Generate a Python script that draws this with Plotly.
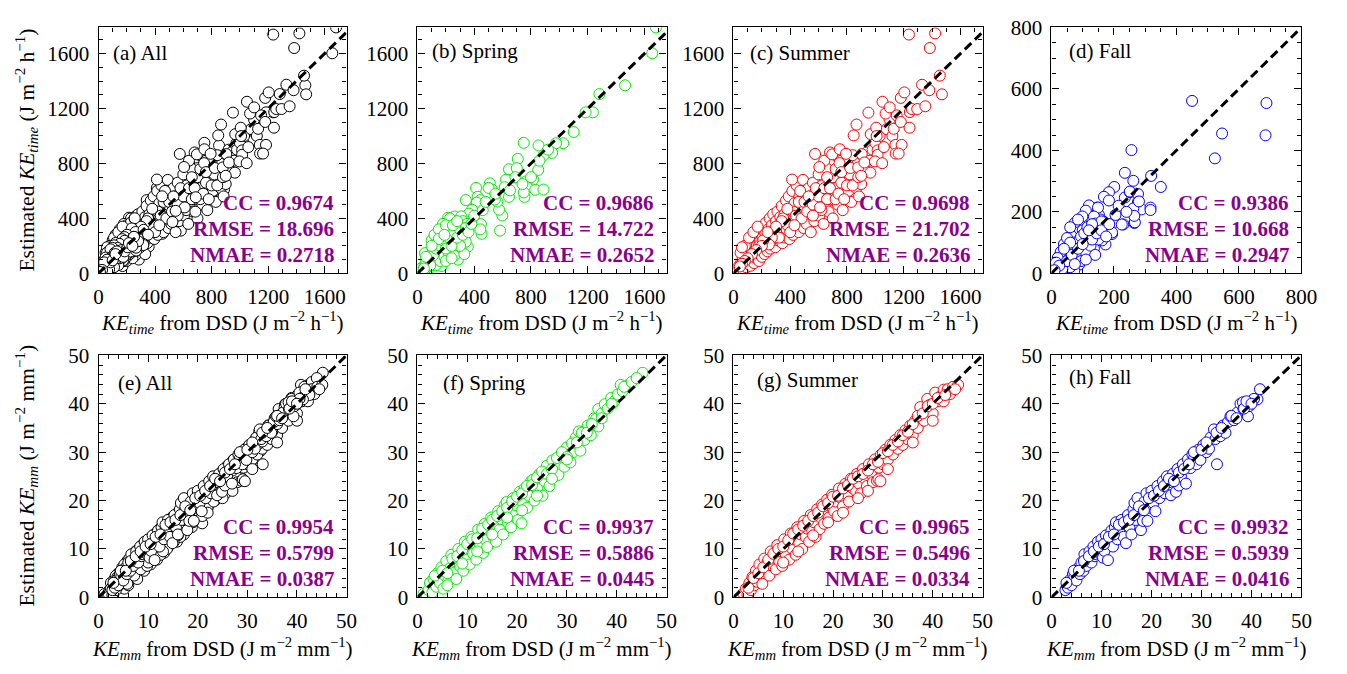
import plotly.graph_objects as go

FONT = "Liberation Serif, Times New Roman, serif"
W, H = 1347, 674

# ---------------- KE_time: (from DSD, estimated), J m-2 h-1 ----------------
spring_time = [
    (1681, 1790), (1654, 1602), (1463, 1369), (1282, 1305), (1236, 1172), (1185, 1172),
    (1101, 1029), (1027, 947), (976, 947), (949, 877), (888, 858), (853, 931), (749, 950),
    (707, 833), (645, 758), (700, 766), (851, 753), (814, 681), (765, 669), (772, 627),
    (754, 557), (830, 608), (888, 610), (749, 589), (624, 681), (615, 627), (645, 557),
    (652, 604), (582, 311), (598, 421), (575, 463), (563, 522), (545, 537), (510, 655),
    (524, 611), (501, 622), (413, 622), (424, 557), (443, 533), (418, 515), (341, 533),
    (385, 463), (362, 435), (397, 405), (447, 358), (452, 288), (443, 320),
    (216, 405), (262, 414), (309, 414), (170, 335), (100, 241), (53, 147), (355, 194),
    (285, 100), (170, 53), (77, 30), (20, 15), (30, 40), (40, 20), (50, 60), (60, 35),
    (70, 90), (80, 50), (90, 130), (100, 75), (110, 170), (120, 100), (130, 60), (140, 200),
    (150, 130), (160, 90), (170, 250), (180, 160), (190, 120), (200, 300), (210, 210),
    (220, 150), (230, 340), (240, 250), (250, 180), (260, 380), (270, 290), (280, 220),
    (290, 340), (300, 260), (310, 160), (320, 380), (330, 300), (340, 230), (350, 360),
    (230, 400), (180, 360), (120, 280), (150, 320), (260, 130), (200, 90), (330, 140),
    (300, 200), (240, 110),
    (60, 80), (90, 60), (110, 130), (130, 180), (160, 200), (180, 240), (200, 180),
    (220, 260), (240, 200), (260, 300), (280, 260), (300, 320), (320, 280), (340, 330),
    (360, 300), (200, 350), (250, 350), (280, 380), (150, 250), (190, 280), (100, 200),
    (60, 120), (30, 20), (45, 35), (380, 360), (400, 420), (460, 460), (480, 520),
    (550, 580), (690, 700), (740, 650), (800, 700), (860, 820), (920, 900),
]

summer_time = [
    (15, 10), (25, 35), (30, 15), (40, 55), (45, 25), (55, 80), (60, 40), (65, 110),
    (70, 20), (75, 60), (85, 130), (90, 45), (95, 95), (100, 160), (105, 70), (110, 120),
    (115, 190), (120, 55), (125, 150), (130, 95), (135, 220), (140, 130), (145, 75),
    (150, 250), (155, 170), (160, 110), (165, 200), (170, 280), (175, 140), (180, 90),
    (185, 230), (190, 310), (195, 170), (200, 120), (205, 260), (210, 340), (215, 195),
    (220, 140), (225, 290), (230, 370), (235, 220), (240, 160), (245, 320), (250, 250),
    (255, 400), (260, 180), (265, 290), (270, 350), (275, 210), (280, 430), (285, 270),
    (290, 320), (295, 190), (300, 380), (50, 150), (80, 200), (110, 260), (140, 300),
    (60, 190), (170, 340),
    (310, 450), (315, 240), (320, 310), (330, 410), (335, 280), (340, 490), (345, 220),
    (350, 350), (360, 430), (365, 260), (370, 530), (375, 320), (385, 390), (390, 560),
    (395, 250), (400, 470), (405, 330), (415, 600), (420, 280), (425, 400), (430, 510),
    (440, 350), (445, 640), (450, 450), (460, 300), (465, 560), (470, 390), (480, 480),
    (490, 680), (495, 330), (500, 420), (510, 590), (515, 360), (525, 500), (530, 620),
    (540, 430), (545, 300), (555, 540), (560, 660), (570, 380), (580, 470), (590, 580),
    (600, 720), (605, 420), (615, 520), (625, 640), (635, 360), (645, 480), (650, 580),
    (660, 760), (670, 450), (685, 540), (690, 650), (700, 400), (710, 600), (720, 700),
    (735, 500), (745, 640), (755, 560), (770, 460), (780, 660), (795, 760), (810, 600),
    (830, 520), (850, 700), (865, 620), (885, 560), (900, 650),
    (180, 200), (220, 240), (260, 230), (300, 300), (320, 260), (350, 400), (380, 350),
    (400, 300), (420, 450), (440, 420), (460, 520), (480, 400), (500, 520), (520, 450),
    (540, 560), (560, 500), (580, 620), (600, 560), (620, 460), (640, 620), (660, 540),
    (680, 620), (700, 700), (720, 540), (740, 580), (760, 660), (780, 540), (800, 640),
    (820, 720), (840, 640), (860, 800), (880, 700), (920, 760), (940, 880), (960, 820),
    (980, 900), (1000, 950), (1030, 1000), (1080, 1050), (1120, 1000), (1100, 1120),
    (1150, 1150), (560, 420), (610, 480), (660, 700), (720, 760), (470, 600), (530, 560),
    (430, 350), (380, 470), (340, 380), (300, 340), (270, 260), (250, 210), (210, 240),
    (240, 300), (200, 200), (160, 170), (130, 140), (100, 110), (80, 90), (60, 70),
    (45, 50), (640, 820), (680, 880), (720, 860), (760, 820), (800, 820), (840, 860),
    (413, 683), (575, 869), (605, 774), (696, 866), (749, 903), (793, 870), (747, 802),
    (760, 737), (823, 767), (879, 771), (847, 1004), (867, 1083), (904, 868), (923, 807),
    (965, 733), (900, 710), (951, 1170), (967, 1013), (1006, 1060), (1009, 999),
    (1016, 895), (1016, 863), (997, 815), (1048, 802), (1060, 919), (1141, 935),
    (1185, 935), (1143, 872), (1164, 872), (1050, 1249), (1072, 1163), (1101, 1208),
    (1129, 1052), (1179, 1102), (1241, 1060), (1243, 1174), (1179, 1277), (1204, 1317),
    (1257, 1196), (1295, 1196), (1352, 1216), (1329, 1373), (1380, 1333), (1469, 1303),
    (1454, 1439), (1384, 1640), (1236, 1738), (1421, 1747),
]

fall_time = [
    (450, 561), (688, 554), (685, 449), (546, 455), (523, 374), (256, 401), (235, 327),
    (262, 301), (319, 317), (350, 281), (201, 281), (184, 264), (168, 249), (235, 247),
    (251, 264), (277, 258), (277, 232), (288, 208), (262, 211), (317, 214), (317, 206),
    (184, 237), (230, 159), (197, 164), (194, 128), (173, 94), (265, 164), (146, 214),
    (152, 190), (126, 200), (115, 208), (105, 180), (131, 175), (157, 175), (167, 168),
    (157, 149), (136, 123), (162, 107), (99, 159), (75, 164), (84, 133), (115, 102),
    (136, 81), (105, 81), (89, 60), (63, 123), (52, 92), (42, 66), (31, 39), (16, 19),
    (73, 81), (89, 29), (63, 50), (52, 23), (26, 58), (10, 29), (42, 14), (73, 9),
    (120, 221), (149, 214), (110, 204), (136, 185), (99, 185), (141, 162), (160, 169),
    (194, 133), (225, 159), (267, 166), (265, 187), (280, 234), (251, 266),
    (20, 5), (35, 30), (45, 45), (55, 75), (60, 20), (70, 100), (80, 55), (90, 110),
    (95, 40), (100, 140), (110, 70), (120, 120), (125, 90), (140, 60), (150, 110),
    (30, 70), (40, 95), (60, 150), (85, 175), (50, 115), (20, 50), (15, 35), (110, 45),
    (35, 15), (50, 40), (65, 60), (75, 30), (85, 80), (95, 120), (105, 130), (115, 150),
    (130, 110), (145, 130), (160, 140), (175, 120), (185, 160), (205, 190), (215, 220),
    (240, 200), (60, 100), (40, 80), (25, 25), (10, 10), (130, 160), (100, 95), (120, 140),
]

# ---------------- KE_mm: (from DSD, estimated), J m-2 mm-1 ----------------
spring_mm = [
    (1.2, 0.7), (1.8, 0.5), (2.2, 1.5), (2.5, 3.0), (3.0, 1.0), (3.2, 3.8), (3.8, 2.2),
    (4.0, 5.0), (4.5, 3.0), (4.8, 6.2), (5.2, 1.8), (5.5, 4.5), (5.8, 7.5), (6.2, 3.5),
    (6.5, 6.0), (6.8, 8.8), (7.2, 5.0), (7.5, 7.5), (7.8, 3.8), (8.2, 10.0), (8.5, 6.5),
    (8.8, 8.8), (9.2, 5.5), (9.5, 11.5), (9.8, 7.8), (10.2, 10.2), (10.5, 6.8),
    (10.8, 12.5), (11.2, 9.0), (11.5, 11.2), (11.8, 7.8), (12.2, 14.0), (12.5, 10.5),
    (12.8, 12.8), (13.2, 9.2), (13.5, 15.2), (13.8, 11.8), (14.0, 10.4), (14.5, 14.0),
    (14.8, 16.5), (15.2, 12.5), (15.5, 15.0), (15.8, 11.5), (16.2, 17.8), (16.5, 14.0),
    (16.8, 16.2), (17.2, 13.0), (17.5, 19.0), (17.9, 19.7), (18.2, 15.5), (18.5, 17.5),
    (18.8, 14.5), (19.2, 20.5), (19.5, 17.0), (19.8, 19.0), (20.2, 16.0), (20.5, 21.8),
    (20.9, 15.3), (21.2, 19.5), (21.5, 22.5), (22.0, 18.5), (22.4, 21.0), (22.8, 24.0),
    (23.2, 24.3), (23.5, 20.0), (24.0, 22.5), (24.5, 25.5), (25.1, 21.0), (25.5, 24.0),
    (26.0, 27.2), (26.5, 23.0), (27.1, 28.3), (27.5, 25.0), (28.3, 25.3), (28.8, 29.5),
    (29.5, 27.0), (30.0, 31.0), (30.7, 27.9), (31.2, 30.0), (31.8, 33.0), (32.4, 34.3),
    (32.7, 30.3), (33.5, 32.5), (34.2, 35.5), (34.8, 33.5), (35.5, 37.0), (35.9, 36.9),
    (36.3, 35.3), (36.3, 38.9), (37.0, 38.0), (37.6, 39.9), (38.2, 39.0), (38.9, 41.2),
    (39.5, 40.5), (40.2, 41.9), (40.8, 43.9), (41.2, 42.6), (42.3, 43.9), (45.2, 46.4),
    (3.5, 4.5), (5.0, 5.5), (6.0, 5.0), (7.0, 8.0), (8.0, 8.5), (9.0, 9.8), (10.0, 11.0),
    (11.0, 12.0), (12.0, 12.2), (13.0, 14.2), (14.2, 15.0), (15.0, 16.0), (16.0, 16.8),
    (17.0, 17.8), (18.0, 18.5), (19.0, 19.8), (20.0, 20.8), (21.0, 21.5), (22.0, 23.0),
    (23.0, 23.2), (24.0, 24.8), (25.0, 26.0), (26.0, 25.5), (27.0, 26.5), (28.0, 28.8),
    (29.0, 30.0), (30.0, 29.0), (31.0, 31.8), (32.0, 32.0), (33.0, 34.0), (34.0, 34.0),
    (35.0, 35.8), (37.0, 37.0), (39.0, 40.0), (41.5, 43.5), (43.0, 44.5), (44.0, 45.3),
    (6.0, 2.5), (9.0, 7.0), (12.0, 9.5), (15.0, 13.0), (18.0, 16.5), (21.0, 18.0),
    (24.0, 21.0), (27.0, 24.5), (30.0, 28.5),
]

summer_mm = [
    (2.0, 0.8), (2.5, 1.8), (2.8, 0.5), (3.2, 3.0), (3.5, 1.5), (3.8, 4.2), (4.2, 2.5),
    (4.5, 5.5), (4.8, 3.2), (5.2, 6.8), (5.5, 4.2), (5.8, 2.8), (6.2, 8.0), (6.5, 5.5),
    (6.8, 7.2), (7.2, 4.5), (7.5, 9.5), (7.8, 6.5), (8.2, 8.2), (8.5, 5.8), (8.8, 10.8),
    (9.2, 7.5), (9.5, 9.5), (9.8, 6.5), (10.2, 12.0), (10.5, 8.8), (10.8, 10.8),
    (11.2, 7.8), (11.5, 13.2), (11.8, 10.0), (12.2, 12.0), (12.5, 8.8), (12.8, 14.5),
    (13.2, 11.2), (13.5, 13.0), (13.8, 10.0), (14.2, 15.8), (14.5, 12.5), (14.8, 14.2),
    (15.2, 11.5), (15.5, 17.0), (15.8, 13.8), (16.2, 15.5), (16.5, 12.5), (16.8, 18.2),
    (17.3, 14.1), (17.5, 16.5), (17.8, 19.2), (18.2, 15.2), (18.5, 17.5), (18.8, 20.2),
    (19.2, 16.5), (19.5, 18.8), (19.8, 21.2), (20.2, 17.8), (20.5, 19.8), (20.9, 16.8),
    (21.2, 22.5), (21.6, 20.5), (22.0, 18.8), (22.5, 23.5), (22.8, 21.2), (23.2, 19.8),
    (23.6, 24.5), (24.0, 22.5), (24.5, 22.1), (24.8, 25.5), (25.2, 23.5), (25.6, 21.5),
    (26.0, 26.5), (26.4, 24.5), (26.8, 23.0), (27.2, 27.5), (27.6, 25.5), (28.0, 23.8),
    (28.4, 28.5), (28.8, 24.1), (29.1, 24.4), (29.2, 26.8), (29.6, 29.5), (30.0, 27.5),
    (30.5, 30.5), (31.0, 28.5), (31.5, 31.5), (32.0, 29.5), (32.5, 32.5), (33.0, 30.7),
    (33.5, 33.5), (34.0, 31.5), (34.5, 34.5), (34.9, 32.7), (35.5, 35.5), (36.0, 33.5),
    (36.5, 36.5), (37.0, 35.0), (37.5, 39.3), (37.8, 37.2), (38.3, 36.5), (38.9, 41.0),
    (39.0, 38.5), (39.5, 39.8), (40.0, 38.0), (40.5, 42.3), (41.0, 40.5), (41.5, 41.5),
    (42.2, 40.5), (42.2, 42.9), (43.0, 43.0), (43.5, 42.0), (44.1, 43.5), (45.1, 43.9),
    (3.0, 2.0), (4.0, 4.0), (5.0, 5.0), (6.0, 6.2), (7.0, 7.8), (8.0, 9.0), (9.0, 10.0),
    (10.0, 10.5), (11.0, 11.8), (12.0, 13.2), (13.0, 14.0), (14.0, 14.8), (15.0, 15.8),
    (16.0, 16.8), (17.0, 17.5), (18.0, 18.8), (19.0, 19.5), (20.0, 20.8), (21.0, 21.0),
    (22.0, 22.5), (23.0, 23.2), (24.0, 24.5), (25.0, 25.0), (26.0, 25.5), (27.0, 26.2),
    (28.0, 27.5), (29.0, 28.0), (30.0, 29.8), (31.0, 30.2), (32.0, 31.5), (33.0, 32.2),
    (34.0, 33.5), (35.0, 34.2), (36.0, 35.8), (37.0, 37.5), (38.0, 38.0), (39.0, 39.5),
    (40.0, 40.0), (41.0, 41.2), (42.5, 41.8), (44.5, 43.0), (10.0, 7.2), (13.0, 9.5),
    (16.0, 12.8), (19.0, 15.5), (22.0, 17.5), (25.0, 20.5), (27.0, 22.0), (29.5, 24.0),
    (31.0, 26.5), (36.0, 32.0), (40.0, 36.5),
]

fall_mm = [
    (2.8, 1.5), (3.3, 2.0), (3.6, 3.5), (4.0, 2.5), (4.3, 4.8), (4.6, 4.3), (5.0, 3.5),
    (5.3, 6.0), (5.7, 4.8), (6.0, 7.2), (6.4, 5.5), (6.6, 8.9), (7.0, 6.5), (7.3, 7.6),
    (7.6, 9.5), (8.0, 7.2), (8.4, 10.5), (8.7, 8.5), (9.0, 8.9), (9.3, 11.5), (9.7, 9.0),
    (10.0, 12.0), (10.3, 8.2), (10.6, 9.6), (10.9, 12.8), (11.3, 7.7), (11.6, 11.5),
    (12.0, 13.8), (12.3, 10.5), (12.7, 14.5), (12.9, 15.5), (13.2, 12.0), (13.6, 14.0),
    (14.0, 16.0), (14.4, 12.5), (14.9, 11.2), (15.3, 17.0), (15.6, 14.5), (16.0, 13.0),
    (16.4, 18.2), (16.6, 19.5), (16.8, 16.0), (17.2, 20.5), (17.5, 17.5), (17.9, 13.9),
    (17.9, 18.5), (18.3, 15.8), (18.6, 19.8), (19.0, 21.5), (19.2, 15.8), (19.6, 18.5),
    (20.0, 22.0), (20.4, 19.5), (20.8, 17.8), (21.2, 23.0), (21.6, 20.5), (21.9, 22.1),
    (22.3, 24.0), (22.7, 21.5), (23.1, 25.0), (23.5, 23.8), (23.9, 21.1), (24.3, 25.5),
    (24.9, 21.8), (25.2, 26.5), (25.5, 23.1), (25.9, 25.0), (26.3, 27.5), (26.9, 23.5),
    (27.3, 28.5), (27.8, 26.7), (28.2, 29.5), (28.5, 28.7), (29.0, 27.5), (29.4, 30.5),
    (29.8, 28.4), (30.4, 31.5), (31.0, 30.0), (31.5, 30.7), (31.8, 33.0), (32.5, 34.7),
    (32.8, 32.7), (33.1, 27.5), (33.8, 33.3), (34.3, 35.5), (34.8, 34.0), (35.3, 36.2),
    (35.8, 37.4), (36.5, 36.6), (37.2, 38.2), (37.8, 40.0), (38.3, 40.3), (38.4, 38.9),
    (39.3, 37.4), (39.5, 39.5), (40.1, 40.6), (41.2, 40.9), (41.7, 43.0),
    (3.0, 3.0), (4.5, 5.5), (5.5, 5.5), (6.5, 7.5), (7.5, 8.5), (8.5, 9.5), (9.5, 10.5),
    (10.5, 11.0), (11.5, 12.5), (12.5, 13.0), (13.5, 15.0), (14.5, 15.5), (15.5, 16.0),
    (16.5, 17.0), (17.5, 18.8), (18.5, 18.0), (19.5, 20.5), (20.5, 21.0), (21.5, 22.0),
    (22.5, 23.0), (23.5, 24.5), (24.5, 24.0), (25.5, 25.8), (26.5, 26.5), (27.5, 27.5),
    (28.5, 30.0), (30.0, 30.5), (31.0, 32.0), (33.0, 34.0), (34.0, 35.0), (36.0, 37.5),
    (37.0, 37.0), (38.5, 39.0), (40.5, 41.0), (39.0, 40.5), (40.0, 40.0),
]

# ---------------- statistics shown in each panel ----------------
cc_values = ["0.9674", "0.9686", "0.9698", "0.9386", "0.9954", "0.9937", "0.9965", "0.9932"]
rmse_values = ["18.696", "14.722", "21.702", "10.668", "0.5799", "0.5886", "0.5496", "0.5939"]
nmae_values = ["0.2718", "0.2652", "0.2636", "0.2947", "0.0387", "0.0445", "0.0334", "0.0416"]

panel_labels = ["(a) All", "(b) Spring", "(c) Summer", "(d) Fall",
                "(e) All", "(f) Spring", "(g) Summer", "(h) Fall"]
colors = ["#000000", "#00EE00", "#FF0000", "#0000FF"] * 2
STAT_COLOR = "#8B008B"

series = [
    spring_time + summer_time + fall_time, spring_time, summer_time, fall_time,
    spring_mm + summer_mm + fall_mm, spring_mm, summer_mm, fall_mm,
]

# axis setup per panel: (x max, y max, major step, minor step)
axis_spec = [(1755, 1790, 400, 100)] * 3 + [(800, 800, 200, 50)] + [(50, 50, 10, 2)] * 4

# panel pixel boxes
col_px = [(95, 347), (419, 672), (740, 993), (1063, 1317)]
row_px = [(16, 271), (356, 607)]
label_offsets = [(13, 26), (13, 24), (15, 26), (16, 24), (18, 29), (24, 29), (22, 26), (16, 22)]

x_title_time = "<i>KE<sub>time</sub></i> from DSD (J m<sup>−2</sup> h<sup>−1</sup>)"
x_title_mm = "<i>KE<sub>mm</sub></i> from DSD (J m<sup>−2</sup> mm<sup>−1</sup>)"
y_title_time = "Estimated <i>KE<sub>time</sub></i> (J m<sup>−2</sup> h<sup>−1</sup>)"
y_title_mm = "Estimated <i>KE<sub>mm</sub></i> (J m<sup>−2</sup> mm<sup>−1</sup>)"


def px_x(p):
    return p / W


def px_y(p):
    return 1 - p / H


fig = go.Figure()
annotations = []
layout_axes = {}

for i in range(8):
    r, c = divmod(i, 4)
    sfx = "" if i == 0 else str(i + 1)
    xmax, ymax, major, minor = axis_spec[i]
    pts = series[i]

    fig.add_trace(go.Scatter(
        x=[p[0] for p in pts], y=[p[1] for p in pts],
        mode="markers", xaxis="x" + sfx, yaxis="y" + sfx, showlegend=False,
        marker=dict(symbol="circle", size=11, color="white",
                    line=dict(color=colors[i], width=1)),
        cliponaxis=True,
    ))
    lim = min(xmax, ymax)
    fig.add_trace(go.Scatter(
        x=[0, lim], y=[0, lim], mode="lines", xaxis="x" + sfx, yaxis="y" + sfx,
        showlegend=False, line=dict(color="black", width=3, dash="9px,5px"),
    ))

    common = dict(
        showline=True, linecolor="black", linewidth=1.2, mirror="ticks",
        ticks="inside", ticklen=7, tickwidth=1, tickcolor="black",
        tick0=0, dtick=major, showgrid=False, zeroline=False,
        minor=dict(ticks="inside", dtick=minor, tick0=0, ticklen=4,
                   tickwidth=1, tickcolor="black", showgrid=False),
        tickfont=dict(family=FONT, size=21, color="black"),
        ticklabelstandoff=4,
    )
    x0, x1 = col_px[c]
    y0, y1 = row_px[r]
    layout_axes["xaxis" + sfx] = dict(common, domain=[px_x(x0), px_x(x1)],
                                      range=[0, xmax], anchor="y" + sfx)
    layout_axes["yaxis" + sfx] = dict(common, domain=[px_y(y1), px_y(y0)],
                                      range=[0, ymax], anchor="x" + sfx)

    # panel label
    dx, dy = label_offsets[i]
    annotations.append(dict(
        text=panel_labels[i], x=px_x(x0 + dx), y=px_y(y0 + dy), xref="paper", yref="paper",
        xanchor="left", yanchor="middle", showarrow=False,
        font=dict(family=FONT, size=21, color="black"),
    ))
    # statistics block
    for txt, up in ((f"CC = {cc_values[i]}", 73), (f"RMSE = {rmse_values[i]}", 46),
                    (f"NMAE = {nmae_values[i]}", 19)):
        annotations.append(dict(
            text=f"<b>{txt}</b>", x=px_x(x1 - 11), y=px_y(y1 - up), xref="paper", yref="paper",
            xanchor="right", yanchor="middle", showarrow=False,
            font=dict(family=FONT, size=21, color=STAT_COLOR),
        ))
    # x-axis title
    annotations.append(dict(
        text=x_title_time if r == 0 else x_title_mm,
        x=px_x((x0 + x1) / 2), y=px_y(322 if r == 0 else 660), xref="paper", yref="paper",
        xanchor="center", yanchor="middle", showarrow=False,
        font=dict(family=FONT, size=21, color="black"),
    ))

# y-axis titles (first column only)
for r, yc in ((0, 143), (1, 481)):
    annotations.append(dict(
        text=y_title_time if r == 0 else y_title_mm, textangle=-90,
        x=px_x(22), y=px_y(yc), xref="paper", yref="paper",
        xanchor="center", yanchor="middle", showarrow=False,
        font=dict(family=FONT, size=21.5, color="black"),
    ))

fig.update_layout(
    width=W, height=H, margin=dict(l=0, r=0, t=0, b=0),
    paper_bgcolor="white", plot_bgcolor="white",
    font=dict(family=FONT, size=21, color="black"),
    annotations=annotations, **layout_axes,
)

fig.write_html("out.html")
